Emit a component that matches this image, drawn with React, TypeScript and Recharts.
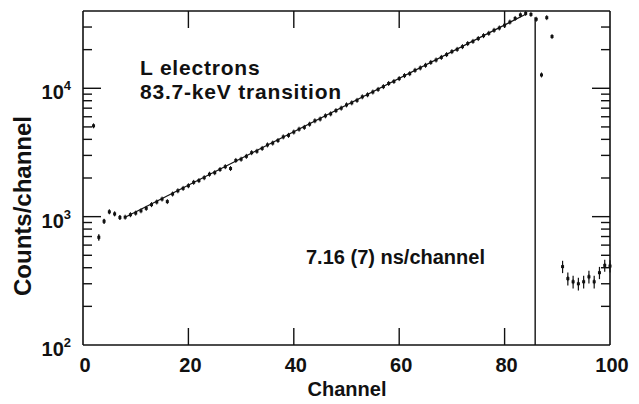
import React from 'react';
import { ComposedChart, Scatter, Line, XAxis, YAxis, ErrorBar, ReferenceLine } from 'recharts';

// measured spectrum, counts per channel
const channels = [
  2, 3, 4, 5, 6, 7, 8, 9, 10, 11,
  12, 13, 14, 15, 16, 17, 18, 19, 20, 21,
  22, 23, 24, 25, 26, 27, 28, 29, 30, 31,
  32, 33, 34, 35, 36, 37, 38, 39, 40, 41,
  42, 43, 44, 45, 46, 47, 48, 49, 50, 51,
  52, 53, 54, 55, 56, 57, 58, 59, 60, 61,
  62, 63, 64, 65, 66, 67, 68, 69, 70, 71,
  72, 73, 74, 75, 76, 77, 78, 79, 80, 81,
  82, 83, 84, 85, 86, 87, 88, 89, 91, 92,
  93, 94, 95, 96, 97, 98, 99, 100,
];
const counts = [
  5100, 690, 920, 1090, 1050, 985, 990, 1035, 1065, 1110,
  1160, 1240, 1300, 1370, 1310, 1500, 1590, 1660, 1740, 1850,
  1910, 2010, 2140, 2200, 2330, 2450, 2370, 2740, 2800, 2950,
  3150, 3230, 3400, 3620, 3740, 3920, 4180, 4300, 4560, 4800,
  4960, 5250, 5580, 5760, 6100, 6320, 6700, 7000, 7420, 7700,
  8050, 8580, 8900, 9350, 9800, 10300, 10900, 11300, 11900, 12550,
  13000, 13800, 14400, 15100, 15900, 16600, 17400, 18300, 19300, 20100,
  21100, 22300, 23200, 24400, 25700, 26800, 28300, 29500, 31000, 32800,
  35000, 37300, 38300, 37600, 34500, 12700, 35500, 25300, 408, 329,
  311, 300, 311, 340, 311, 366, 417, 412,
];

// error bars that stick out past the marker
const errChannels = [2, 3, 4, 5, 6, 7, 91, 92, 93, 94, 95, 96, 97, 98, 99, 100];
const errSizes = [150, 40, 40, 40, 40, 40, 45, 38, 35, 34, 35, 38, 35, 40, 45, 45];

// exponential fit, straight on the log axis
const fitChannels = [8, 84];
const fitCounts = [990, 37700];

const cutoffChannel = 85.8;
const cutoffTop = 35700;

const xTicks = [0, 20, 40, 60, 80, 100];
const yTicks = [
  100, 200, 300, 400, 500, 600, 700, 800, 900,
  1000, 2000, 3000, 4000, 5000, 6000, 7000, 8000, 9000,
  10000, 20000, 30000,
];
const decadeExp: Record<number, string> = { 100: '2', 1000: '3', 10000: '4' };

const X_MIN = 0;
const X_MAX = 100;
const Y_MIN = 100;
const Y_MAX = 40000;

const points = channels.map((ch, i) => {
  const k = errChannels.indexOf(ch);
  return { ch, n: counts[i], err: k >= 0 ? errSizes[k] : undefined };
});
const fitData = fitChannels.map((ch, i) => ({ ch, fit: fitCounts[i] }));

// frame tick marks: each one placed through the axis scales and drawn
// inward from its side of the frame (dx, dy in pixels)
const innerX = xTicks.filter((v) => v > X_MIN && v < X_MAX);
const innerY = yTicks.filter((v) => v > Y_MIN);
const frameMarks = [
  ...innerY.map((v) => ({ ch: X_MIN, pos: v, dx: decadeExp[v] ? 18 : 9, dy: 0 })),
  ...innerY.map((v) => ({ ch: X_MAX, pos: v, dx: decadeExp[v] ? -18 : -9, dy: 0 })),
  ...innerX.map((v) => ({ ch: v, pos: Y_MIN, dx: 0, dy: -17 })),
  ...innerX.map((v) => ({ ch: v, pos: Y_MAX, dx: 0, dy: 17 })),
];

const INK = '#111';
const FONT = '"Liberation Sans", Arial, Helvetica, sans-serif';
const W = 639;
const H = 404;

const Marker = (props: any) => {
  const { cx, cy } = props;
  if (cx == null || cy == null) return <g />;
  return (
    <g>
      <rect x={cx - 1.5} y={cy - 1.5} width={3} height={3} fill={INK} />
      <path d={`M${cx},${cy - 2.5}V${cy + 2.5}`} stroke={INK} strokeWidth={1} />
    </g>
  );
};

const FrameTick = (props: any) => {
  const { cx, cy, payload } = props;
  if (cx == null || cy == null || !payload) return <g />;
  return (
    <path d={`M${cx},${cy}l${payload.dx},${payload.dy}`} stroke={INK} strokeWidth={1.4} fill="none" />
  );
};

const BottomLabel = (props: any) => {
  const x = Number(props.x);
  const y = Number(props.y);
  return (
    <text x={x + 2} y={y + 27} textAnchor="middle" fontFamily={FONT} fontWeight="bold" fontSize={20} fill={INK}>
      {props.payload.value}
    </text>
  );
};

const LeftLabel = (props: any) => {
  const x = Number(props.x);
  const y = Number(props.y);
  const exp = decadeExp[props.payload.value];
  if (!exp) return <g />;
  return (
    <text x={x - 12} y={y + 11} textAnchor="end" fontFamily={FONT} fontWeight="bold" fontSize={20} fill={INK}>
      10
      <tspan dy={-9} fontSize={13}>
        {exp}
      </tspan>
    </text>
  );
};

const axisLine = { stroke: INK, strokeWidth: 1.6 };

export default function App() {
  return (
    <div style={{ position: 'relative', width: W, height: H, background: '#fff' }}>
      <style>{'body { margin: 0; }'}</style>
      <ComposedChart width={W} height={H} margin={{ top: 10, right: 28, bottom: 0, left: 0 }}>
        <XAxis
          xAxisId="b"
          type="number"
          dataKey="ch"
          domain={[X_MIN, X_MAX]}
          ticks={xTicks}
          interval={0}
          height={59}
          tickSize={0}
          tickMargin={0}
          tickLine={false}
          axisLine={axisLine}
          tick={BottomLabel}
        />
        <XAxis
          xAxisId="t"
          orientation="top"
          type="number"
          dataKey="ch"
          domain={[X_MIN, X_MAX]}
          height={1}
          tick={false}
          tickLine={false}
          axisLine={axisLine}
        />
        <YAxis
          yAxisId="l"
          scale="log"
          domain={[Y_MIN, Y_MAX]}
          ticks={yTicks}
          interval={0}
          width={83}
          tickSize={0}
          tickMargin={0}
          tickLine={false}
          axisLine={axisLine}
          tick={LeftLabel}
        />
        <YAxis
          yAxisId="r"
          orientation="right"
          scale="log"
          domain={[Y_MIN, Y_MAX]}
          width={1}
          tick={false}
          tickLine={false}
          axisLine={axisLine}
        />

        <Line
          xAxisId="b"
          yAxisId="l"
          data={fitData}
          dataKey="fit"
          type="linear"
          dot={false}
          stroke={INK}
          strokeWidth={1.2}
          isAnimationActive={false}
        />
        <ReferenceLine
          xAxisId="b"
          yAxisId="l"
          segment={[
            { x: cutoffChannel, y: Y_MIN },
            { x: cutoffChannel, y: cutoffTop },
          ]}
          stroke={INK}
          strokeWidth={1.4}
        />
        <Scatter xAxisId="b" yAxisId="l" data={points} dataKey="n" shape={Marker} isAnimationActive={false}>
          <ErrorBar dataKey="err" direction="y" width={0} stroke={INK} strokeWidth={1.2} />
        </Scatter>
        <Scatter
          xAxisId="b"
          yAxisId="l"
          data={frameMarks}
          dataKey="pos"
          shape={FrameTick}
          isAnimationActive={false}
        />
      </ComposedChart>
      <svg
        width={W}
        height={H}
        style={{ position: 'absolute', left: 0, top: 0, pointerEvents: 'none' }}
        fontFamily={FONT}
        fontWeight="bold"
        fill={INK}
      >
        <text x={140} y={75} fontSize={21} letterSpacing={0.8}>L electrons</text>
        <text x={140} y={99} fontSize={21} letterSpacing={0.8}>83.7-keV transition</text>
        <text x={306} y={264} fontSize={20}>7.16 (7) ns/channel</text>
        <text x={347} y={396} fontSize={20} textAnchor="middle">Channel</text>
        <text x={31} y={206} fontSize={24} textAnchor="middle" transform="rotate(-90 31 206)">
          Counts/channel
        </text>
      </svg>
    </div>
  );
}
